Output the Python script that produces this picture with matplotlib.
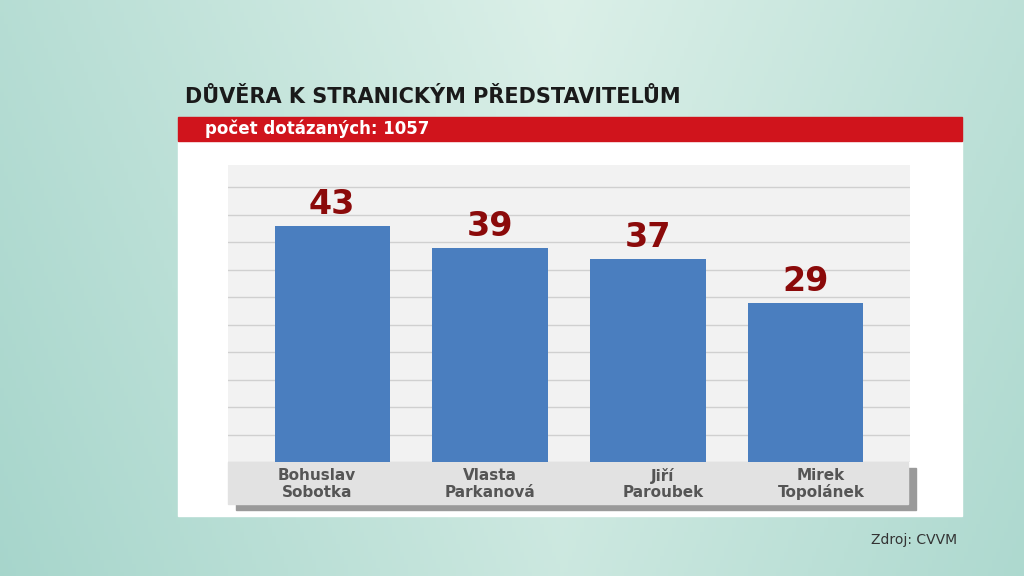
import numpy as np
import matplotlib
matplotlib.use('Agg')
import matplotlib.pyplot as plt
from matplotlib.patches import Rectangle

names = ["Bohuslav\nSobotka", "Vlasta\nParkanová", "Jiří\nParoubek", "Mirek\nTopolánek"]
values = [43, 39, 37, 29]
title = "DŮVĚRA K STRANICKÝM PŘEDSTAVITELŮM"
subtitle = "počet dotázaných: 1057"
source = "Zdroj: CVVM"

W, H = 1024, 576
fig = plt.figure(figsize=(W / 100, H / 100), dpi=100)

# background gradient
bg = fig.add_axes([0, 0, 1, 1])
xx = np.linspace(0, 1, 256)
yy = np.linspace(0, 1, 144)
X, Y = np.meshgrid(xx, yy)
light = np.array([0.86, 0.94, 0.91])
dark = np.array([0.62, 0.82, 0.78])
t = np.clip(0.55 * np.abs(X - 0.55) * 2 + 0.25 * Y, 0, 1)[..., None]
img = light * (1 - t) + dark * t
bg.imshow(img, extent=[0, W, H, 0], aspect='auto')
bg.set_xlim(0, W)
bg.set_ylim(H, 0)
bg.axis('off')

# white panel, red strip, title
bg.add_patch(Rectangle((178, 140), 784, 376, color='white', zorder=2))
bg.add_patch(Rectangle((178, 117), 784, 24, color='#d0141c', zorder=2))
bg.text(185, 97, title, fontsize=15, fontweight='bold', color='#1a1a1a', va='center', zorder=3)
bg.text(205, 129, subtitle, fontsize=12, fontweight='bold', color='white', va='center', zorder=3)
bg.text(957, 540, source, fontsize=10, color='#333333', ha='right', va='center', zorder=3)

# label strip with shadow
bg.add_patch(Rectangle((236, 468), 680, 42, color='#9a9a9a', zorder=2))
bg.add_patch(Rectangle((228, 462), 680, 42, color='#e2e2e2', zorder=2))

# chart axes
ax = fig.add_axes([228 / W, 1 - 462 / H, (910 - 228) / W, (462 - 165) / H])
ax.set_facecolor('#f2f2f2')
x = np.arange(len(values))
ax.bar(x, values, width=0.73, color='#4a7ebf', zorder=3)
for xi, v in zip(x, values):
    ax.text(xi, v + 0.8, str(v), ha='center', va='bottom', fontsize=24,
            fontweight='bold', color='#8b0a0a')
ax.set_xlim(-0.66, 3.66)
ax.set_ylim(0, 54)
ax.set_yticks(np.arange(0, 55, 5))
ax.grid(axis='y', color='#d0d0d0', lw=1, zorder=0)
ax.tick_params(left=False, bottom=False, labelleft=False, labelbottom=False)
for s in ax.spines.values():
    s.set_visible(False)

offsets = [-0.25, 0.0, 0.25, 0.25]
for xi, n, o in zip(x, names, offsets):
    bg.text(332 + 158 * xi + o * 60, 484, n, fontsize=11, fontweight='bold',
            color='#555555', ha='center', va='center', linespacing=1.1, zorder=4)

fig.savefig('out.png', dpi=100)
